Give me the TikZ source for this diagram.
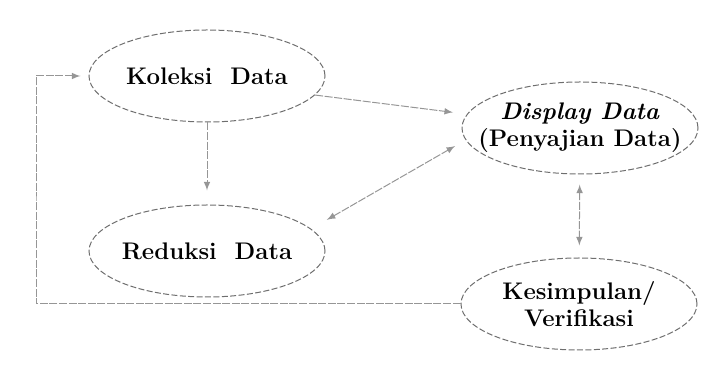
\documentclass[tikz,border=0pt]{standalone}
\usetikzlibrary{shapes.geometric}

\tikzset{every picture/.style={line width=0.5pt}}
\tikzset{
  stage/.style={ellipse, draw={rgb,255:red,110;green,110;blue,110}, dash pattern={on 3pt off 1.2pt},
    minimum width=118pt, minimum height=46pt, inner xsep=-12pt, inner ysep=0pt, align=center,
    font=\fontsize{12}{13.5}\selectfont\bfseries},
  link/.style={draw={rgb,255:red,150;green,150;blue,150}, dash pattern={on 4pt off 0.8pt}, -latex}
}

\begin{document}
\begin{tikzpicture}[x=0.5pt,y=0.5pt,yscale=-1,xscale=1]
\useasboundingbox (0,0) rectangle (722,373);

% Stages
\node [stage] (koleksi) at (207,76) {Koleksi\ \ Data};
\node [stage] (reduksi) at (207,251) {Reduksi\ \ Data};
\node [stage] (display) at (580,128) {\textit{Display\ Data}\\(Penyajian\ Data)};
\node [stage] (kesimpulan) at (579,304) {Kesimpulan/\\Verifikasi};
\coordinate (balik) at (36,200);

% Links
\draw [link, shorten >=7pt] (koleksi) -- (reduksi);
\draw [link, shorten >=7pt] (koleksi.-10) -- (display.173);
\draw [link, latex-latex, shorten >=6pt, shorten <=9pt] (reduksi.12) -- (display.186);
\draw [link, latex-latex, shorten >=6pt, shorten <=5pt] (display) -- (kesimpulan);
\draw [link, shorten >=4pt] (kesimpulan.west) -| (balik) |- (koleksi.west);

\end{tikzpicture}
\end{document}
